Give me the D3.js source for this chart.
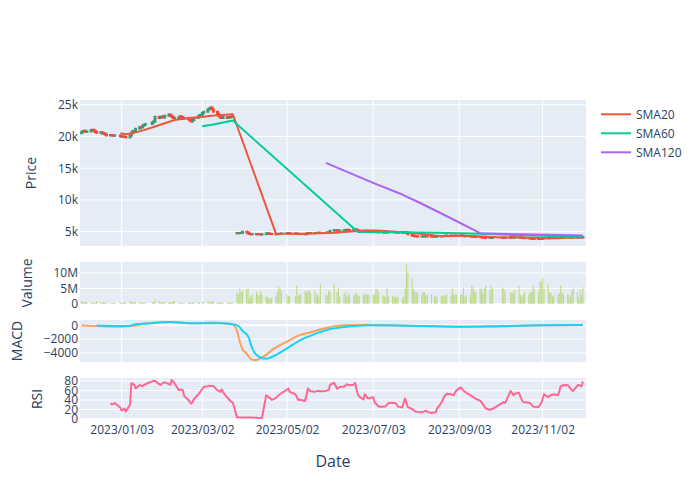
<!DOCTYPE html>
<html><head><meta charset="utf-8">
<script src="https://cdn.jsdelivr.net/npm/d3@7"></script>
<style>body{margin:0;background:#fff;} text{font-family:"Open Sans",sans-serif;}</style>
</head><body><svg id="c" width="700" height="500"></svg>
<script>
// ---------- DATA ----------
const startDate = "2022-12-05", endDate = "2023-12-01";
const holidays = ["2022-12-30","2023-01-23","2023-01-24","2023-03-01","2023-05-01","2023-05-05","2023-05-29","2023-06-06","2023-08-15","2023-09-28","2023-09-29","2023-10-02","2023-10-03","2023-10-09"];

const open = [
20500,20650,20850,20900,20750,20800,21000,21050,20900,20700,20600,20650,20450,20500,20300,20150,20250,20200,20100,
20150,20050,19950,20000,19900,19850,20100,20600,20850,20700,21200,21500,21400,21700,21850,21950,22200,22350,23100,22900,
23050,23150,23000,23250,23450,23300,23100,22900,22950,23000,23200,23050,22850,22800,22700,22500,22350,22600,22900,23150,
23400,23700,23900,24250,24400,24550,24300,23900,23500,23200,22950,22900,23050,22900,23000,23100,23050,
4750,4800,4750,4780,4850,
4980,4900,4700,4620,4580,4600,4620,4600,4580,4560,4600,4700,4750,4680,4650,4620,4600,4620,4650,4680,
4700,4750,4780,4720,4700,4680,4620,4640,4630,4600,4700,4800,4780,4760,4780,4800,4820,4830,4820,4850,
4870,4900,5150,5250,5150,5180,5200,5220,5250,5300,5280,5270,5300,5380,5250,5150,5100,5050,5150,5120,5080,
5050,5080,4980,4950,4920,4900,4890,4900,4890,4920,4950,4940,4930,4920,4880,4850,4830,4900,4950,4800,4600,
4400,4350,4300,4280,4250,4230,4250,4270,4280,4250,4200,4190,4200,4250,4300,4320,4350,4370,4380,4370,4360,4350,
4380,4400,4420,4380,4340,4300,4280,4250,4230,4210,4190,4170,4150,4120,4100,4060,4020,3990,4000,
4010,4060,4080,4060,4150,4120,4100,4110,4120,4070,4030,3990,3970,3950,3940,3900,3850,3840,3830,
3860,3890,3950,4000,3980,3990,4000,4010,4020,4010,4050,4100,4110,4120,4120,4100,4080,4060,4050,4100,4120,4110,
4100];
const high = [
20750,20950,21000,20980,20900,21100,21150,21100,20950,20800,20750,20700,20600,20550,20400,20350,20300,20300,20250,
20200,20100,20100,20050,19950,20200,20700,20950,20900,21300,21600,21600,21800,21950,22050,22300,22450,23200,23200,23150,
23250,23250,23350,23550,23500,23400,23150,23050,23100,23300,23250,23100,22950,22900,22750,22600,22700,23000,23250,23500,
23800,24000,24350,24500,24700,24600,24350,23950,23600,23250,23050,23150,23100,23100,23200,23200,23250,
4840,4840,4820,4890,5020,
5020,4940,4740,4660,4640,4660,4660,4640,4620,4640,4740,4790,4790,4720,4690,4660,4660,4690,4720,4740,
4790,4820,4820,4760,4740,4720,4680,4680,4670,4740,4840,4840,4820,4820,4840,4860,4870,4870,4890,4910,
4940,5190,5290,5290,5220,5240,5260,5290,5340,5340,5320,5340,5420,5420,5290,5190,5140,5190,5190,5160,5120,
5120,5120,5020,4990,4960,4940,4940,4940,4960,4990,4990,4980,4970,4960,4920,4890,4940,4990,4990,4840,4640,
4440,4390,4340,4320,4290,4290,4310,4320,4320,4290,4240,4240,4290,4340,4360,4390,4410,4420,4420,4410,4400,4420,
4440,4460,4460,4420,4380,4340,4320,4290,4270,4250,4230,4210,4190,4160,4140,4100,4060,4040,4050,
4100,4120,4120,4190,4190,4160,4150,4160,4160,4110,4070,4030,4010,3990,3980,3940,3890,3880,3900,
3930,3990,4040,4040,4030,4040,4050,4060,4060,4090,4140,4150,4160,4160,4160,4140,4120,4100,4140,4160,4160,4150,
4190];
const low = [
20400,20600,20750,20680,20650,20750,20900,20850,20650,20500,20550,20400,20350,20250,20100,20100,20100,20050,20000,
19950,19900,19850,19800,19750,19800,20050,20550,20600,20650,21150,21300,21350,21600,21750,21900,22100,22300,22800,22850,
22950,22900,22950,23200,23200,23000,22800,22800,22850,22950,22950,22750,22700,22600,22400,22250,22300,22550,22850,23100,
23350,23650,23850,24150,24350,24200,23800,23400,23100,22850,22800,22850,22800,22850,22900,22950,23000,
4710,4710,4710,4740,4810,
4860,4660,4580,4540,4540,4560,4560,4540,4520,4520,4560,4660,4640,4610,4580,4560,4560,4580,4610,4640,
4660,4710,4680,4660,4640,4580,4580,4590,4560,4560,4660,4740,4720,4720,4740,4760,4780,4780,4780,4810,
4830,4860,5110,5110,5110,5140,5160,5180,5210,5240,5230,5230,5260,5210,5110,5060,5010,5010,5080,5040,5010,
5010,4940,4910,4880,4860,4850,4850,4850,4850,4880,4900,4890,4880,4840,4810,4790,4790,4860,4760,4560,4360,
4310,4260,4240,4210,4190,4190,4210,4230,4210,4160,4150,4150,4160,4210,4260,4280,4310,4330,4330,4320,4310,4310,
4340,4360,4340,4300,4260,4240,4210,4190,4170,4150,4130,4110,4080,4060,4020,3980,3950,3950,3960,
3970,4020,4020,4020,4080,4060,4060,4070,4030,3990,3950,3930,3910,3900,3860,3810,3800,3790,3790,
3820,3850,3910,3940,3940,3950,3960,3970,3970,3970,4010,4060,4070,4080,4060,4040,4020,4010,4010,4060,4070,4060,
4060];
const close = [
20650,20850,20900,20750,20800,21000,21050,20900,20700,20600,20650,20450,20500,20300,20150,20250,20200,20100,20150,
20050,19950,20000,19900,19850,20100,20600,20850,20700,21200,21500,21400,21700,21850,21950,22200,22350,23100,22900,23050,
23150,23000,23250,23450,23300,23100,22900,22950,23000,23200,23050,22850,22800,22700,22500,22350,22600,22900,23150,23400,
23700,23900,24250,24400,24550,24300,23900,23500,23200,22950,22900,23050,22900,23000,23100,23050,23150,
4800,4750,4780,4850,4980,
4900,4700,4620,4580,4600,4620,4600,4580,4560,4600,4700,4750,4680,4650,4620,4600,4620,4650,4680,4700,
4750,4780,4720,4700,4680,4620,4640,4630,4600,4700,4800,4780,4760,4780,4800,4820,4830,4820,4850,4870,
4900,5150,5250,5150,5180,5200,5220,5250,5300,5280,5270,5300,5380,5250,5150,5100,5050,5150,5120,5080,5050,
5080,4980,4950,4920,4900,4890,4900,4890,4920,4950,4940,4930,4920,4880,4850,4830,4900,4950,4800,4600,4400,
4350,4300,4280,4250,4230,4250,4270,4280,4250,4200,4190,4200,4250,4300,4320,4350,4370,4380,4370,4360,4350,4380,
4400,4420,4380,4340,4300,4280,4250,4230,4210,4190,4170,4150,4120,4100,4060,4020,3990,4000,4010,
4060,4080,4060,4150,4120,4100,4110,4120,4070,4030,3990,3970,3950,3940,3900,3850,3840,3830,3860,
3890,3950,4000,3980,3990,4000,4010,4020,4010,4050,4100,4110,4120,4120,4100,4080,4060,4050,4100,4120,4110,4100,
4150];
// volume in millions of shares
const volumeM = [
0.9,0.7,0.6,0.6,0.5,0.4,0.4,0.3,0.5,1.0,0.6,0.5,0.6,0.5,0.4,0.3,0.3,0.4,0.4,
0.4,0.5,0.4,0.5,0.5,1.0,0.6,0.5,0.6,0.7,0.6,0.5,0.5,0.4,0.5,0.6,0.7,1.5,0.9,0.6,
0.6,0.5,0.6,0.5,0.5,0.6,0.7,1.0,0.4,0.4,0.3,0.3,0.3,0.4,0.5,0.5,0.4,0.5,0.6,0.6,
0.6,0.7,0.8,0.7,0.6,1.1,0.7,0.6,0.5,0.5,0.4,0.5,0.5,0.4,0.4,0.5,0.4,
3.9,3.2,5.1,3.9,4.2,4.8,5.1,1.8,2.5,3.1,4.0,3.1,2.8,4.2,3.1,2.4,2.2,2.0,1.8,2.0,2.6,3.9,5.6,5.1,4.2,3.1,2.6,2.5,2.6,6.0,2.6,3.1,
3.1,4.2,3.8,4.2,4.5,3.5,4.2,3.1,3.1,2.4,6.5,3.1,2.7,4.5,3.8,6.5,3.8,5.4,2.4,3.1,
3.8,2.4,3.5,2.9,2.7,3.5,3.5,2.7,2.7,3.1,3.0,3.2,3.1,2.9,3.1,3.1,4.9,4.9,3.8,2.7,2.7,
2.1,5.1,2.4,2.7,2.4,2.2,2.4,2.1,1.8,2.4,5.3,12.9,10.5,8.3,4.9,4.0,3.8,3.5,3.1,3.8,
3.8,2.7,3.1,3.1,2.7,2.4,2.4,2.4,2.7,2.9,2.7,3.1,2.7,5.1,3.1,3.1,3.1,2.9,3.1,5.3,
2.4,2.9,2.9,6.0,5.4,4.0,3.8,4.9,5.1,3.5,5.1,6.0,4.5,6.0,5.1,5.3,4.9,4.2,3.8,3.8,
3.5,4.5,6.0,2.9,2.4,3.1,4.0,3.1,3.8,3.8,6.0,4.9,4.0,7.2,7.2,8.5,4.9,6.4,3.5,3.8,
2.4,3.1,3.1,3.5,6.0,3.8,3.1,3.1,2.9,2.4,4.2,5.4,3.8,2.1,4.5,2.9,5.4];
const rsi = [
null,null,null,null,null,null,null,null,null,null,null,null,null,null,null,33,30.7,32,33.5,
24,17.8,20,21.5,15.7,30,75,74,72,64,71.5,70,69,71,73,79,79.5,80,73,71.5,
74,76,77,73,72,82,78,75,60.7,62,61.5,60.7,48,40,36,32.5,35,42,51,55,
63,67,69,70,69,69,69,60,59,57,62,56,45,42,39,36,34.5,
3.5,3.5,3.6,3.4,3.5,
3.3,3.2,3.3,3.0,3.1,2.8,2.5,2.3,2.0,2.0,50,47,45,44,40,44,47,50,52,54,
62,64,57,52,47,40,41,40,38,50,64,61,58,57,58,59,59,58,59,60,
61,72,76,64,65,67,68,70,73,72,71,72,76,62,52,47,41,52,48,44,43,
46,36,32,29,26.4,26,26.4,26.4,30,33.5,34,33.5,33.5,30,26,24,35,43,34,25,21,
19,16.3,15.5,15,14,15,16.5,17.8,15,12.7,13.5,14,22,33.5,40,46,50,53,52,51,50,56,
60,66.5,63,60,57,55,50,48,46,44,42,38.6,35,31,27,22,19.3,20.5,21.5,
34,35.6,33.5,59,54,50,53,55,47,40,35.6,35,34,33.5,30,26.4,26,25,29,
33.5,42,52,46,48,50,51,52,50,58,69,70,71.5,71,68,64,60,59,70,71.5,70,69,
78.5];

const sma20Dates = ["2023-01-02","2023-01-06","2023-01-10","2023-01-13","2023-01-19","2023-01-26","2023-02-02","2023-02-10","2023-02-20","2023-03-02","2023-03-08","2023-03-16","2023-03-24","2023-04-24","2023-05-05","2023-05-15","2023-05-25","2023-06-05","2023-06-15","2023-06-23","2023-07-03","2023-07-12","2023-07-21","2023-07-31","2023-08-10","2023-08-21","2023-08-31","2023-09-11","2023-09-20","2023-10-04","2023-10-16","2023-10-25","2023-11-03","2023-11-13","2023-11-22","2023-12-01"];
const sma20Values = [20500,20350,20450,20650,21000,21500,22000,22600,22900,23050,23250,23400,23500,4720,4680,4690,4740,4830,5000,5150,5180,5100,4960,4830,4560,4300,4310,4330,4240,4100,4070,4030,3950,3980,4070,4090];
const sma60Dates = ["2023-03-02","2023-03-10","2023-03-17","2023-03-24","2023-06-22","2023-07-20","2023-08-18","2023-09-19","2023-10-18","2023-11-15","2023-12-01"];
const sma60Values = [21600,21900,22200,22500,4950,4900,4820,4680,4450,4280,4180];
const sma120Dates = ["2023-05-30","2023-07-03","2023-07-24","2023-08-07","2023-08-24","2023-09-18","2023-10-18","2023-11-15","2023-12-01"];
const sma120Values = [15850,12700,10850,9400,7550,4770,4580,4460,4400];

const macdDates = ["2022-12-05","2022-12-09","2022-12-16","2022-12-23","2023-01-02","2023-01-09","2023-01-16","2023-01-20","2023-01-31","2023-02-07","2023-02-17","2023-02-24","2023-03-08","2023-03-16","2023-03-24","2023-03-27","2023-03-29","2023-03-31","2023-04-03","2023-04-05","2023-04-07","2023-04-10","2023-04-12","2023-04-17","2023-04-21","2023-04-26","2023-05-02","2023-05-12","2023-05-19","2023-05-24","2023-05-30","2023-06-12","2023-06-30","2023-07-14","2023-08-07","2023-09-04","2023-10-04","2023-11-02","2023-12-01"];
const macdValues = [0,-50,-100,-180,-200,-100,100,300,450,500,350,280,400,350,100,-800,-2360,-3500,-4100,-4700,-5000,-5050,-4860,-4300,-3600,-3000,-2360,-1350,-1000,-700,-400,0,50,0,-100,-200,-150,0,50];
const signalDates = ["2022-12-16","2023-01-02","2023-01-09","2023-01-13","2023-01-20","2023-02-07","2023-02-20","2023-03-02","2023-03-16","2023-03-24","2023-03-27","2023-03-29","2023-03-31","2023-04-04","2023-04-07","2023-04-12","2023-04-17","2023-04-21","2023-05-02","2023-05-12","2023-05-19","2023-05-24","2023-05-30","2023-06-12","2023-06-30","2023-08-07","2023-09-04","2023-10-04","2023-11-02","2023-12-01"];
const signalValues = [-30,-100,-50,150,250,500,320,300,300,150,0,-300,-800,-1600,-3350,-4600,-4860,-4600,-3350,-2100,-1500,-1100,-700,-250,0,-100,-200,-100,0,50];

const xTickDates = ["2023-01-03","2023-03-02","2023-05-02","2023-07-03","2023-09-03","2023-11-02"];
const xTickLabels = ["2023/01/03","2023/03/02","2023/05/02","2023/07/03","2023/09/03","2023/11/02"];
const priceTicks = [5000,10000,15000,20000,25000], priceTickLabels = ["5k","10k","15k","20k","25k"];
const volTicks = [0,5,10], volTickLabels = ["0","5M","10M"];
const macdTicks = [0,-2000,-4000], macdTickLabels = ["0","\u22122000","\u22124000"];
const rsiTicks = [0,20,40,60,80], rsiTickLabels = ["0","20","40","60","80"];
const legendNames = ["SMA20","SMA60","SMA120"];

// ---------- STYLE ----------
const C = {bg:"#E5ECF6", grid:"#ffffff", txt:"#2a3f5f", inc:"#3D9970", dec:"#FF4136",
  sma20:"#EF553B", sma60:"#00CC96", sma120:"#AB63FA", macd:"#FFA15A", signal:"#19D3F3", rsi:"#FF6692", vol:"#9ACD32"};
const L = 80, R = 586;
const P = {price:[100,246], vol:[262,304], macd:[320,362], rsi:[378,420]};

const parse = d3.utcParse("%Y-%m-%d"), fmt = d3.utcFormat("%Y-%m-%d");
const dates = [];
for (let d = parse(startDate); d <= parse(endDate); d = d3.utcDay.offset(d, 1)) {
  const wd = d.getUTCDay();
  if (wd === 0 || wd === 6 || holidays.includes(fmt(d))) continue;
  dates.push(d);
}
const N = Math.min(dates.length, close.length);

const x = d3.scaleUtc().domain([Date.UTC(2022,11,4), Date.UTC(2023,11,3,5)]).range([L, R]);
const dayPx = x(Date.UTC(2023,0,2)) - x(Date.UTC(2023,0,1));

function padded(lo, hi){ const r = hi - lo; return [lo - 0.05*r, hi + 0.05*r]; }
const yP = d3.scaleLinear().domain(padded(d3.min(low), d3.max(high))).range([P.price[1], P.price[0]]);
const yV = d3.scaleLinear().domain([0, d3.max(volumeM)*1.05]).range([P.vol[1], P.vol[0]]);
const mAll = macdValues.concat(signalValues);
const yM = d3.scaleLinear().domain(padded(d3.min(mAll), d3.max(mAll))).range([P.macd[1], P.macd[0]]);
const rv = rsi.filter(v => v != null);
const yR = d3.scaleLinear().domain(padded(d3.min(rv), d3.max(rv))).range([P.rsi[1], P.rsi[0]]);

const svg = d3.select("#c");
svg.append("rect").attr("width",700).attr("height",500).attr("fill","#fff");

function panel(key, y, ticks, labels, zero){
  const [t,b] = P[key];
  const g = svg.append("g");
  g.append("rect").attr("x",L).attr("y",t).attr("width",R-L).attr("height",b-t).attr("fill",C.bg);
  // vertical grid
  g.selectAll("line.vx").data(xTickDates).join("line")
    .attr("x1",d=>x(parse(d))).attr("x2",d=>x(parse(d))).attr("y1",t).attr("y2",b)
    .attr("stroke",C.grid).attr("stroke-width",1);
  // horizontal grid
  g.selectAll("line.hy").data(ticks).join("line")
    .attr("x1",L).attr("x2",R).attr("y1",d=>y(d)).attr("y2",d=>y(d))
    .attr("stroke",C.grid).attr("stroke-width",d=> (zero && d===0) ? 2 : 1);
  // axis labels
  const ax = svg.append("g").attr("transform",`translate(${L},0)`)
    .call(d3.axisLeft(y).tickValues(ticks).tickFormat((d,i)=>labels[i]).tickSize(0).tickPadding(2));
  ax.select(".domain").remove();
  ax.selectAll("text").attr("fill",C.txt).style("font-size","12px").style("font-family","'Open Sans',sans-serif");
}
panel("price", yP, priceTicks, priceTickLabels, false);
panel("vol", yV, volTicks, volTickLabels, true);
panel("macd", yM, macdTicks, macdTickLabels, true);
panel("rsi", yR, rsiTicks, rsiTickLabels, true);

// x axis labels under RSI
const xa = svg.append("g").attr("transform",`translate(0,${P.rsi[1]})`)
  .call(d3.axisBottom(x).tickValues(xTickDates.map(parse)).tickFormat((d,i)=>xTickLabels[i]).tickSize(0).tickPadding(5));
xa.select(".domain").remove();
xa.selectAll("text").attr("fill",C.txt).style("font-size","12px").style("font-family","'Open Sans',sans-serif");

// candles
const bw = dayPx*0.7;
const idx = d3.range(N);
svg.append("g").selectAll("path").data(idx).join("path")
  .attr("d", i => {
    const cx = x(dates[i]), yo = yP(open[i]), yc = yP(close[i]), yh = yP(high[i]), yl = yP(low[i]);
    const top = Math.min(yo,yc), bot = Math.max(yo,yc);
    return `M${cx},${yh}V${top}M${cx},${yl}V${bot}M${cx-bw/2},${top}H${cx+bw/2}V${bot}H${cx-bw/2}Z`;
  })
  .attr("stroke", i => close[i] > open[i] ? C.inc : C.dec)
  .attr("fill", i => close[i] > open[i] ? C.inc : C.dec)
  .attr("fill-opacity",0.5).attr("stroke-width",2);

// SMA lines
function series(ds, vs){ return ds.map((d,i)=>({d:parse(d), v:vs[i]})); }
const lineP = d3.line().x(p=>x(p.d)).y(p=>yP(p.v));
[[sma20Dates,sma20Values,C.sma20],[sma60Dates,sma60Values,C.sma60],[sma120Dates,sma120Values,C.sma120]].forEach(([ds,vs,col])=>{
  svg.append("path").datum(series(ds,vs)).attr("d",lineP).attr("fill","none").attr("stroke",col).attr("stroke-width",2).attr("stroke-linejoin","round");
});

// volume bars
const vw = dayPx*0.8;
svg.append("g").selectAll("rect").data(idx).join("rect")
  .attr("x", i => x(dates[i]) - vw/2).attr("width", vw)
  .attr("y", i => yV(volumeM[i])).attr("height", i => yV(0) - yV(volumeM[i]))
  .attr("fill", C.vol).attr("fill-opacity",0.55);

// MACD
const lineM = d3.line().x(p=>x(p.d)).y(p=>yM(p.v)).curve(d3.curveMonotoneX);
svg.append("path").datum(series(macdDates,macdValues)).attr("d",lineM).attr("fill","none").attr("stroke",C.macd).attr("stroke-width",2);
svg.append("path").datum(series(signalDates,signalValues)).attr("d",lineM).attr("fill","none").attr("stroke",C.signal).attr("stroke-width",2);

// RSI
const rsiPts = idx.filter(i => rsi[i] != null).map(i => ({d:dates[i], v:rsi[i]}));
svg.append("path").datum(rsiPts).attr("d", d3.line().x(p=>x(p.d)).y(p=>yR(p.v)))
  .attr("fill","none").attr("stroke",C.rsi).attr("stroke-width",2).attr("stroke-linejoin","round");

// axis titles
function ytitle(txt, cx, cy){
  svg.append("text").attr("transform",`translate(${cx},${cy}) rotate(-90)`).attr("text-anchor","middle")
    .attr("dominant-baseline","central").attr("fill",C.txt).style("font-size","14px").text(txt);
}
ytitle("Price", 30.5, 173);
ytitle("Valume", 26, 283);
ytitle("MACD", 16, 341);
ytitle("RSI", 36.5, 399);
svg.append("text").attr("x",333).attr("y",461).attr("text-anchor","middle").attr("dominant-baseline","central")
  .attr("fill",C.txt).style("font-size","16px").text("Date");

// legend
const lg = svg.append("g");
legendNames.forEach((n,i)=>{
  const yy = 114.3 + i*19;
  const col = [C.sma20,C.sma60,C.sma120][i];
  lg.append("line").attr("x1",601).attr("x2",631).attr("y1",yy).attr("y2",yy).attr("stroke",col).attr("stroke-width",2);
  lg.append("text").attr("x",636).attr("y",yy).attr("dominant-baseline","central").attr("fill",C.txt).style("font-size","12px").text(n);
});
</script></body></html>
